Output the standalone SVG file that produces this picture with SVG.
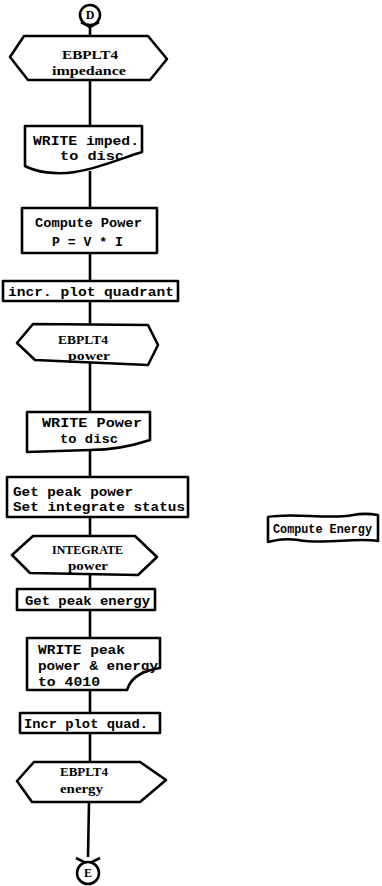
<svg xmlns="http://www.w3.org/2000/svg" width="382" height="886" viewBox="0 0 382 886">
  <style>
    .shape { fill: #ffffff; stroke: #000000; stroke-width: 2.6; stroke-linejoin: round; }
    .wire { fill: none; stroke: #000000; stroke-width: 2.6; }
    .lbl { font-family: "Liberation Mono", "DejaVu Sans Mono", monospace; font-weight: bold; font-size: 13px; fill: #000000; }
    .hdr { font-family: "Liberation Serif", "DejaVu Serif", serif; font-weight: bold; font-size: 13px; fill: #000000; }
    .tag { font-family: "Liberation Serif", "DejaVu Serif", serif; font-weight: bold; font-size: 12px; fill: #000000; text-anchor: middle; }
  </style>
  <rect width="382" height="886" fill="#ffffff"/>

  <!-- flow lines -->
  <g id="connectors">
    <path class="wire" d="M90,25 L90,36"/>
    <path class="wire" d="M90,80 L90,126"/>
    <path class="wire" d="M90,171 L90,208"/>
    <path class="wire" d="M90,253 L90,281"/>
    <path class="wire" d="M90,301 L90,325"/>
    <path class="wire" d="M90,363 L90,412"/>
    <path class="wire" d="M90,450 L90,477"/>
    <path class="wire" d="M90,517 L90,536"/>
    <path class="wire" d="M90,574 L90,589"/>
    <path class="wire" d="M90,610 L90,638"/>
    <path class="wire" d="M90,690 L90,713"/>
    <path class="wire" d="M90,733 L90,762"/>
    <path class="wire" d="M89,802 L88,857"/>
  </g>

  <!-- entry connector -->
  <g id="entry-d">
    <path class="wire" d="M81,22 L90,27 L99,22"/>
    <circle class="shape" cx="90" cy="15" r="10"/>
    <text class="tag" x="90" y="19">D</text>
  </g>

  <g id="ebplt4-impedance">
    <path class="shape" d="M10,57 L24,36 L148,36 L167,59 L150,80 L28,80 Z"/>
    <text class="hdr" x="62" y="59" textLength="56" lengthAdjust="spacingAndGlyphs">EBPLT4</text>
    <text class="hdr" x="52" y="75" textLength="74" lengthAdjust="spacingAndGlyphs">impedance</text>
  </g>

  <g id="write-imped">
    <path class="shape" d="M25,126 L142,126 L142,152 C122,158 100,168 75,172 C55,175 36,172 25,166 Z"/>
    <text class="lbl" x="33" y="145" textLength="106" lengthAdjust="spacingAndGlyphs">WRITE imped.</text>
    <text class="lbl" x="60" y="160" textLength="64" lengthAdjust="spacingAndGlyphs">to disc</text>
  </g>

  <g id="compute-power">
    <rect class="shape" x="22" y="208" width="135" height="45"/>
    <text class="lbl" x="35" y="227" textLength="107" lengthAdjust="spacingAndGlyphs">Compute Power</text>
    <text class="lbl" x="52" y="246" textLength="71" lengthAdjust="spacingAndGlyphs">P = V * I</text>
  </g>

  <g id="incr-plot-quadrant">
    <rect class="shape" x="3" y="281" width="175" height="20"/>
    <text class="lbl" x="8" y="296" textLength="166" lengthAdjust="spacingAndGlyphs">incr. plot quadrant</text>
  </g>

  <g id="ebplt4-power">
    <path class="shape" d="M17,343 L33,324 L148,325 L158,345 L148,365 L35,360 Z"/>
    <text class="hdr" x="58" y="344" textLength="50" lengthAdjust="spacingAndGlyphs">EBPLT4</text>
    <text class="hdr" x="68" y="360" textLength="42" lengthAdjust="spacingAndGlyphs">power</text>
  </g>

  <g id="write-power">
    <path class="shape" d="M27,412 L150,412 L150,440 C132,446 112,450 90,450 L27,452 Z"/>
    <text class="lbl" x="42" y="427" textLength="100" lengthAdjust="spacingAndGlyphs">WRITE Power</text>
    <text class="lbl" x="60" y="443" textLength="58" lengthAdjust="spacingAndGlyphs">to disc</text>
  </g>

  <g id="get-peak-power">
    <rect class="shape" x="7" y="477" width="181" height="40"/>
    <text class="lbl" x="13" y="496" textLength="120" lengthAdjust="spacingAndGlyphs">Get peak power</text>
    <text class="lbl" x="13" y="511" textLength="172" lengthAdjust="spacingAndGlyphs">Set integrate status</text>
  </g>

  <g id="integrate-power">
    <path class="shape" d="M12,555 L33,536 L135,536 L157,557 L138,575 L30,573 Z"/>
    <text class="hdr" x="52" y="554" textLength="71" lengthAdjust="spacingAndGlyphs">INTEGRATE</text>
    <text class="hdr" x="68" y="570" textLength="40" lengthAdjust="spacingAndGlyphs">power</text>
  </g>

  <g id="compute-energy">
    <path class="shape" d="M268,517 C293,512 328,520 353,515 C364,513 372,514 378,515 L378,541 C353,537 328,545 298,540 C286,538 277,540 268,542 Z"/>
    <text class="lbl" x="273" y="533" textLength="99" lengthAdjust="spacingAndGlyphs">Compute Energy</text>
  </g>

  <g id="get-peak-energy">
    <rect class="shape" x="17" y="589" width="138" height="21"/>
    <text class="lbl" x="25" y="605" textLength="125" lengthAdjust="spacingAndGlyphs">Get peak energy</text>
  </g>

  <g id="write-peak">
    <path class="shape" d="M27,638 L160,638 L160,668 C148,670 132,674 127,690 L27,690 Z"/>
    <text class="lbl" x="38" y="654" textLength="87" lengthAdjust="spacingAndGlyphs">WRITE peak</text>
    <text class="lbl" x="38" y="670" textLength="120" lengthAdjust="spacingAndGlyphs">power &amp; energy</text>
    <text class="lbl" x="38" y="686" textLength="62" lengthAdjust="spacingAndGlyphs">to 4010</text>
  </g>

  <g id="incr-plot-quad">
    <rect class="shape" x="20" y="713" width="140" height="20"/>
    <text class="lbl" x="24" y="728" textLength="124" lengthAdjust="spacingAndGlyphs">Incr plot quad.</text>
  </g>

  <g id="ebplt4-energy">
    <path class="shape" d="M17,781 L34,762 L140,762 L166,780 L140,802 L32,802 Z"/>
    <text class="hdr" x="60" y="776" textLength="48" lengthAdjust="spacingAndGlyphs">EBPLT4</text>
    <text class="hdr" x="60" y="793" textLength="43" lengthAdjust="spacingAndGlyphs">energy</text>
  </g>

  <!-- exit connector -->
  <g id="exit-e">
    <path class="wire" d="M76,858 L88,864 L100,858"/>
    <circle class="shape" cx="88" cy="873" r="11"/>
    <text class="tag" x="88" y="877">E</text>
  </g>
</svg>
